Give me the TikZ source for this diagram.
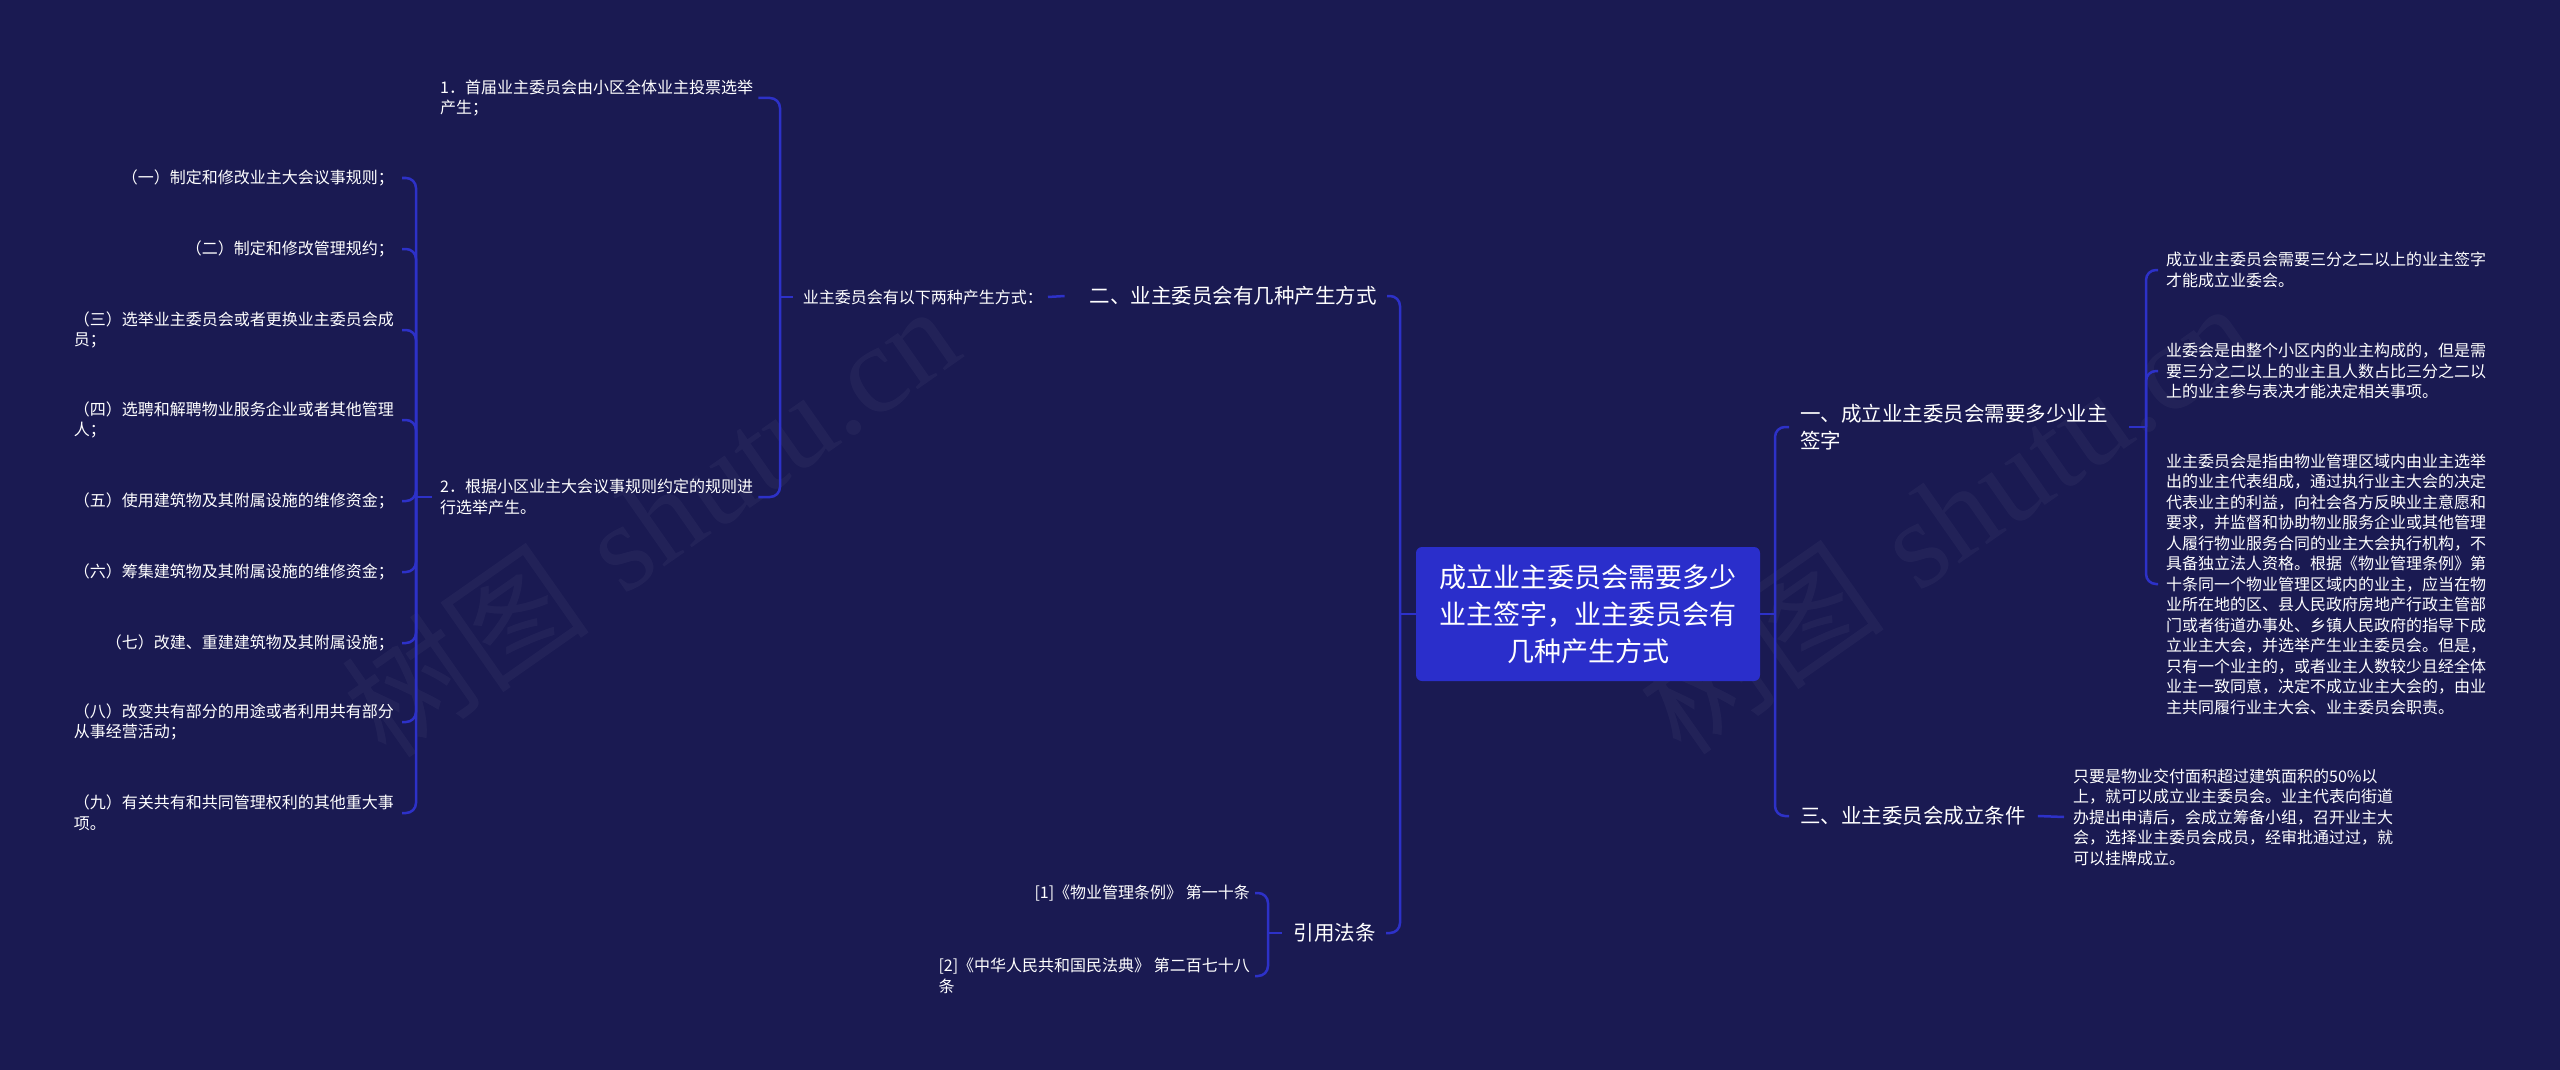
\documentclass[tikz,border=0pt]{standalone}
\usepackage{fontspec}
\newfontfamily\cjk{Noto Sans CJK SC}
\newfontfamily\wmserif{Liberation Serif}
\usetikzlibrary{calc}
\definecolor{bg}{HTML}{1A1A52}
\definecolor{ln}{HTML}{2D31C8}
\definecolor{ctr}{HTML}{2A2ECB}
\begin{document}
\begin{tikzpicture}[x=1pt,y=-1pt,
  conn/.style={draw=ln, line width=2.5pt, rounded corners=10pt},
  leaf/.style={text=white, inner sep=0pt, align=left, font=\cjk\fontsize{16}{20.5}\selectfont},
  mid/.style={text=white, inner sep=0pt, align=left, font=\cjk\fontsize{20.5}{27}\selectfont},
  ctrbox/.style={fill=ctr, rounded corners=6pt, text=white, align=center, minimum width=344pt, minimum height=134pt, inner sep=0pt, font=\cjk\fontsize{27}{37}\selectfont},
  wm/.style={text=white, opacity=0.04, inner sep=0pt, rotate=35, font=\fontsize{125}{125}\selectfont}
]
\fill[bg] (0,0) rectangle (2560,1070);
\useasboundingbox (0,0) rectangle (2560,1070);

% watermarks
\node[wm] (w1) at (650,520) {{\cjk 树图} \wmserif shutu.cn};
\node[wm] (w2) at (1945,517) {{\cjk 树图} \wmserif shutu.cn};

% centre
\node[ctrbox] (c) at (1588,614) {成立业主委员会需要多少\\业主签字，业主委员会有\\几种产生方式};

% right side
\node[mid, anchor=west] (n1) at (1800,427) {一、成立业主委员会需要多少业主\\签字};
\node[mid, anchor=west] (n3) at (1800,816) {三、业主委员会成立条件};
\node[leaf, anchor=west] (l11) at (2166,270) {成立业主委员会需要三分之二以上的业主签字\\才能成立业委会。};
\node[leaf, anchor=west] (l12) at (2166,371) {业委会是由整个小区内的业主构成的，但是需\\要三分之二以上的业主且人数占比三分之二以\\上的业主参与表决才能决定相关事项。};
\node[leaf, anchor=west] (l13) at (2166,584) {业主委员会是指由物业管理区域内由业主选举\\出的业主代表组成，通过执行业主大会的决定\\代表业主的利益，向社会各方反映业主意愿和\\要求，并监督和协助物业服务企业或其他管理\\人履行物业服务合同的业主大会执行机构，不\\具备独立法人资格。根据《物业管理条例》第\\十条同一个物业管理区域内的业主，应当在物\\业所在地的区、县人民政府房地产行政主管部\\门或者街道办事处、乡镇人民政府的指导下成\\立业主大会，并选举产生业主委员会。但是，\\只有一个业主的，或者业主人数较少且经全体\\业主一致同意，决定不成立业主大会的，由业\\主共同履行业主大会、业主委员会职责。};
\node[leaf, anchor=west] (l31) at (2073,817) {只要是物业交付面积超过建筑面积的50\%以\\上，就可以成立业主委员会。业主代表向街道\\办提出申请后，会成立筹备小组，召开业主大\\会，选择业主委员会成员，经审批通过过，就\\可以挂牌成立。};

\coordinate (rt) at (1775,614);
\draw[conn] (c.east) -- (rt);
\draw[conn] ([xshift=-11pt]n1.west) -| (rt) |- ([xshift=-11pt]n3.west);
\coordinate (rt2) at (2146,427);
\draw[conn] ([xshift=21pt]n1.east) -- (rt2);
\draw[conn] ([xshift=-8pt]l11.west) -| (rt2) |- ([xshift=-8pt]l13.west);
\draw[conn] (rt2) |- ([xshift=-8pt]l12.west);
\draw[conn] ([xshift=12pt]n3.east) -- ([xshift=-9pt]l31.west);

% left side
\node[mid, anchor=east] (n2) at (1377,296) {二、业主委员会有几种产生方式};
\node[mid, anchor=east] (ref) at (1376,933) {引用法条};
\coordinate (lt) at (1400,614);
\draw[conn] (c.west) -- (lt);
\draw[conn] ([xshift=10pt]n2.east) -| (lt) |- ([xshift=10pt]ref.east);

\node[leaf, anchor=east] (n2a) at (1043,297) {业主委员会有以下两种产生方式：};
\draw[conn] ([xshift=5pt]n2a.east) -- ([xshift=-25pt]n2.west);
\coordinate (lt2) at (780,297);
\draw[conn] ([xshift=-10pt]n2a.west) -- (lt2);
\node[leaf, anchor=west] (p1) at (440,98) {1．首届业主委员会由小区全体业主投票选举\\产生；};
\node[leaf, anchor=west] (p2) at (440,497) {2．根据小区业主大会议事规则约定的规则进\\行选举产生。};
\draw[conn] ([xshift=5pt]p1.east) -| (lt2) |- ([xshift=5pt]p2.east);

\coordinate (lt3) at (416,497);
\draw[conn] ([xshift=-8pt]p2.west) -- (lt3);
\node[leaf, anchor=east] (i1) at (394,178) {（一）制定和修改业主大会议事规则；};
\node[leaf, anchor=east] (i2) at (394,249) {（二）制定和修改管理规约；};
\node[leaf, anchor=east] (i3) at (394,330) {（三）选举业主委员会或者更换业主委员会成\\员；};
\node[leaf, anchor=east] (i4) at (394,420) {（四）选聘和解聘物业服务企业或者其他管理\\人；};
\node[leaf, anchor=east] (i5) at (394,501) {（五）使用建筑物及其附属设施的维修资金；};
\node[leaf, anchor=east] (i6) at (394,572) {（六）筹集建筑物及其附属设施的维修资金；};
\node[leaf, anchor=east] (i7) at (394,643) {（七）改建、重建建筑物及其附属设施；};
\node[leaf, anchor=east] (i8) at (394,722) {（八）改变共有部分的用途或者利用共有部分\\从事经营活动；};
\node[leaf, anchor=east] (i9) at (394,813) {（九）有关共有和共同管理权利的其他重大事\\项。};
\draw[conn] ([xshift=8pt]i1.east) -| (lt3) |- ([xshift=8pt]i9.east);
\foreach \k in {2,...,8} {\draw[conn] (lt3) |- ([xshift=8pt]i\k.east);}

\node[leaf, anchor=east] (r1) at (1250,893) {[1]《物业管理条例》 第一十条};
\node[leaf, anchor=east] (r2) at (1250,976) {[2]《中华人民共和国民法典》 第二百七十八\\条};
\coordinate (lt4) at (1268,933);
\draw[conn] ([xshift=-12pt]ref.west) -- (lt4);
\draw[conn] ([xshift=5pt]r1.east) -| (lt4) |- ([xshift=5pt]r2.east);
\end{tikzpicture}
\end{document}
